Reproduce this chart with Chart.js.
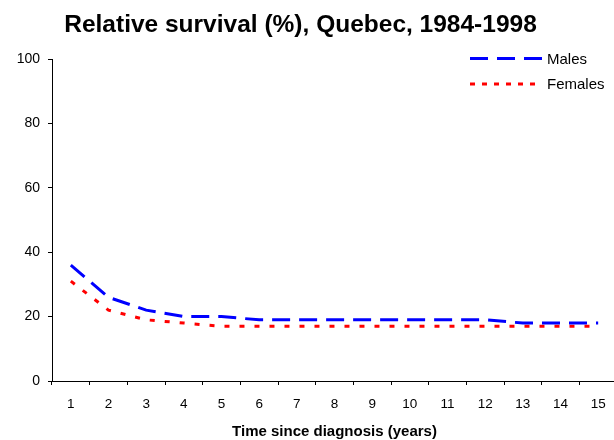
<!DOCTYPE html>
<html>
<head>
<meta charset="utf-8">
<script src="https://cdn.jsdelivr.net/npm/chart.js@4/dist/chart.umd.min.js"></script>
<style>
  html, body { margin: 0; padding: 0; background: #fff; overflow: hidden; }
  #wrap { width: 620px; height: 440px; }
</style>
</head>
<body>
<div id="wrap"><canvas id="chart" width="620" height="440"></canvas></div>
<script>
// ── Data ──────────────────────────────────────────────────────────────────────
const years   = ['1','2','3','4','5','6','7','8','9','10','11','12','13','14','15'];
const males   = [36, 26, 22, 20, 20, 19, 19, 19, 19, 19, 19, 19, 18, 18, 18];
const females = [31, 22, 19, 18, 17, 17, 17, 17, 17, 17, 17, 17, 17, 17, 17];
const yTicks  = [0, 20, 40, 60, 80, 100];

const chartTitle = 'Relative survival (%), Quebec, 1984-1998';
const xTitle     = 'Time since diagnosis (years)';

const FONT = "'Liberation Sans', Arial, sans-serif";

// ── Title + legend drawn on top of the canvas ────────────────────────────────
const overlay = {
  id: 'overlay',
  afterDraw(chart) {
    const ctx = chart.ctx;
    ctx.save();
    ctx.fillStyle = '#000';
    ctx.font = `bold 24.5px ${FONT}`;
    ctx.textAlign = 'center';
    ctx.textBaseline = 'alphabetic';
    ctx.fillText(chartTitle, 300.5, 32);

    // legend, inside the plot (top right)
    const items = [
      { ds: chart.data.datasets[0], y: 58.5, dash: [18, 9] },
      { ds: chart.data.datasets[1], y: 84,   dash: [5, 7] },
    ];
    ctx.textAlign = 'left';
    ctx.textBaseline = 'middle';
    ctx.font = `15px ${FONT}`;
    items.forEach(it => {
      ctx.strokeStyle = it.ds.borderColor;
      ctx.lineWidth = 3;
      ctx.setLineDash(it.dash);
      ctx.beginPath();
      ctx.moveTo(470, it.y);
      ctx.lineTo(542, it.y);
      ctx.stroke();
      ctx.setLineDash([]);
      ctx.fillStyle = '#000';
      ctx.fillText(it.ds.label, 547, it.y + 1);
    });
    ctx.restore();
  }
};

new Chart(document.getElementById('chart'), {
  type: 'line',
  data: {
    labels: years,
    datasets: [
      {
        label: 'Males',
        data: males,
        borderColor: '#0000ff',
        borderWidth: 3,
        borderDash: [18, 9],
        pointRadius: 0,
        tension: 0,
        fill: false,
      },
      {
        label: 'Females',
        data: females,
        borderColor: '#ff0000',
        borderWidth: 3,
        borderDash: [5, 10],
        pointRadius: 0,
        tension: 0,
        fill: false,
      }
    ]
  },
  options: {
    responsive: false,
    animation: false,
    devicePixelRatio: 1,
    layout: { padding: { top: 59, right: 3, bottom: 0, left: 0 } },
    plugins: {
      legend: { display: false },
      title: { display: false },
      tooltip: { enabled: false },
    },
    scales: {
      x: {
        offset: true,
        grid: {
          offset: true,
          drawOnChartArea: false,
          color: '#000',
          tickLength: 4,
        },
        border: { color: '#000', width: 1 },
        ticks: {
          color: '#000',
          font: { family: FONT, size: 13.5 },
          padding: 11,
          maxRotation: 0,
          autoSkip: false,
        },
        title: {
          display: true,
          text: xTitle,
          color: '#000',
          font: { family: FONT, size: 15, weight: 'bold' },
          padding: { top: 0, bottom: -1 },
        },
        afterFit(scale) { scale.height = 59; },
      },
      y: {
        min: 0,
        max: 100,
        afterBuildTicks(scale) { scale.ticks = yTicks.map(v => ({ value: v })); },
        grid: {
          drawOnChartArea: false,
          color: '#000',
          tickLength: 4,
        },
        border: { color: '#000', width: 1 },
        ticks: {
          color: '#000',
          font: { family: FONT, size: 14 },
          padding: 8,
        },
        afterFit(scale) { scale.width = 52; },
      }
    }
  },
  plugins: [overlay]
});
</script>
</body>
</html>
